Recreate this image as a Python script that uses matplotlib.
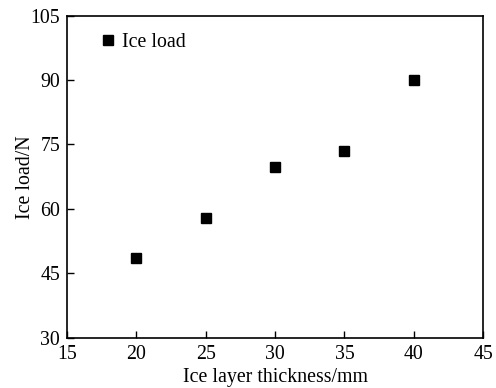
import matplotlib
matplotlib.use("Agg")
import matplotlib.pyplot as plt

thickness = [20, 25, 30, 35, 40]
ice_load = [48.7, 58.0, 69.8, 73.6, 90.0]
xticks = [15, 20, 25, 30, 35, 40, 45]
yticks = [30, 45, 60, 75, 90, 105]

plt.rcParams['font.family'] = ['Liberation Serif', 'DejaVu Serif']
plt.rcParams['font.size'] = 14.3

fig = plt.figure(figsize=(4.96, 3.88), dpi=100)
ax = fig.add_axes([0.135, 0.129, 0.839, 0.831])
ax.plot(thickness, ice_load, linestyle='none', marker='s', markersize=6.5,
        color='black', label='Ice load')
ax.set_xlim(15, 45)
ax.set_ylim(30, 105)
ax.set_xticks(xticks)
ax.set_yticks(yticks)
ax.tick_params(direction='in', length=5, width=1, labelsize=14.3)
ax.tick_params(axis='x', pad=5)
ax.tick_params(axis='y', pad=5)
for s in ax.spines.values():
    s.set_linewidth(1.2)
ax.set_xlabel('Ice layer thickness/mm', fontsize=14.3, labelpad=3)
ax.set_ylabel('Ice load/N', fontsize=14.3, labelpad=-3)
ax.legend(loc='upper left', frameon=False, handletextpad=0.1, markerscale=1.0,
          bbox_to_anchor=(0.051, 0.97), borderaxespad=0, handlelength=1.2,
          fontsize=14.3)
fig.savefig('out.png', dpi=100)
